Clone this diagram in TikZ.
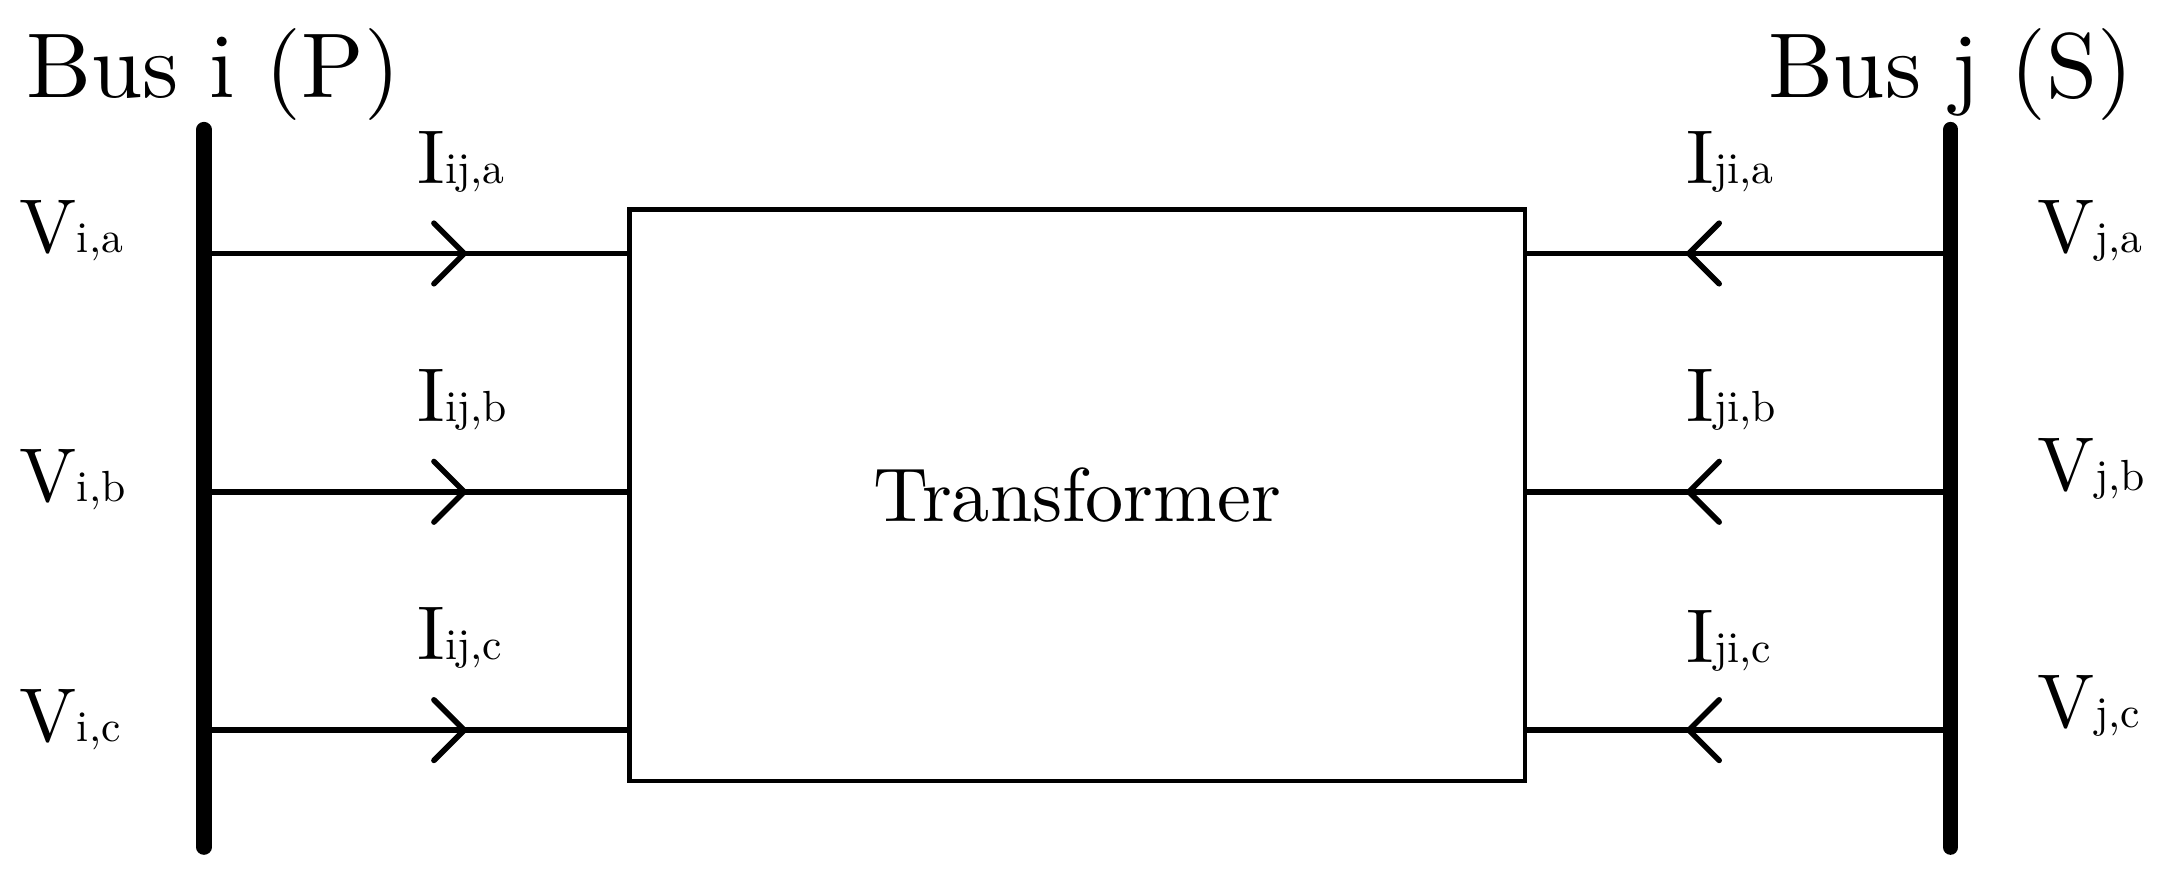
\documentclass[tikz,border=0pt]{standalone}
\usepackage{fontspec}
\setmainfont{lmroman10-regular.otf}
\usetikzlibrary{calc}
\newcommand{\sbx}[1]{{\fontsize{18}{22}\selectfont #1}}
\begin{document}
\begin{tikzpicture}[x=0.02cm,y=-0.02cm,
  busbar/.style={line width=6.3pt,line cap=round},
  wire/.style={line width=2.3pt},
  chev/.style={line width=2.3pt,line cap=round,line join=miter},
  tbox/.style={draw,line width=1.8pt,minimum width=13cm,minimum height=8.3cm,inner sep=0pt,
    font=\fontsize{31.5}{37}\selectfont},
  lbl/.style={font=\fontsize{31.5}{37}\selectfont,inner sep=0pt},
  buslbl/.style={font=\fontsize{38}{46}\selectfont,inner sep=0pt}]
\useasboundingbox (0,0) rectangle (1568,640);

% transformer box
\node[tbox] (T) at (782,359.5) {Transformer};

% bus bars
\coordinate (bit) at (148,94);
\coordinate (bib) at (148,615);
\coordinate (bjt) at (1416,94);
\coordinate (bjb) at (1416,615);
\draw[busbar] (bit) -- (bib);
\draw[busbar] (bjt) -- (bjb);

% wires and arrow chevrons
\foreach \r/\y in {a/184,b/357,c/530}{
  \coordinate (li\r) at (148,\y);
  \coordinate (lt\r) at (457,\y);
  \coordinate (rj\r) at (1416,\y);
  \coordinate (rt\r) at (1107,\y);
  \coordinate (la\r) at (337,\y);
  \coordinate (ra\r) at (1226,\y);
  \draw[wire] (li\r) -- (lt\r);
  \draw[wire] (rj\r) -- (rt\r);
  \draw[chev] ($(la\r)+(-22,-22)$) -- (la\r) -- ($(la\r)+(-22,22)$);
  \draw[chev] ($(ra\r)+(22,-22)$) -- (ra\r) -- ($(ra\r)+(22,22)$);
}

% bus labels
\node[buslbl,anchor=base west] (busi) at (19,71) {Bus i (P)};
\node[buslbl,anchor=base east] (busj) at (1549,71) {Bus j (S)};

% voltage labels
\node[lbl,anchor=base west] (via) at (14,183) {V\sbx{i,a}};
\node[lbl,anchor=base west] (vib) at (14,364) {V\sbx{i,b}};
\node[lbl,anchor=base west] (vic) at (14,538) {V\sbx{i,c}};
\node[lbl,anchor=base west] (vja) at (1479,183) {V\sbx{j,a}};
\node[lbl,anchor=base west] (vjb) at (1479,356) {V\sbx{j,b}};
\node[lbl,anchor=base west] (vjc) at (1479,528) {V\sbx{j,c}};

% current labels
\node[lbl,anchor=base west] (iija) at (303,133) {I\sbx{ij,a}};
\node[lbl,anchor=base west] (iijb) at (303,306) {I\sbx{ij,b}};
\node[lbl,anchor=base west] (iijc) at (303,479) {I\sbx{ij,c}};
\node[lbl,anchor=base west] (ijia) at (1224,133) {I\sbx{ji,a}};
\node[lbl,anchor=base west] (ijib) at (1224,306) {I\sbx{ji,b}};
\node[lbl,anchor=base west] (ijic) at (1224,481) {I\sbx{ji,c}};
\end{tikzpicture}
\end{document}
